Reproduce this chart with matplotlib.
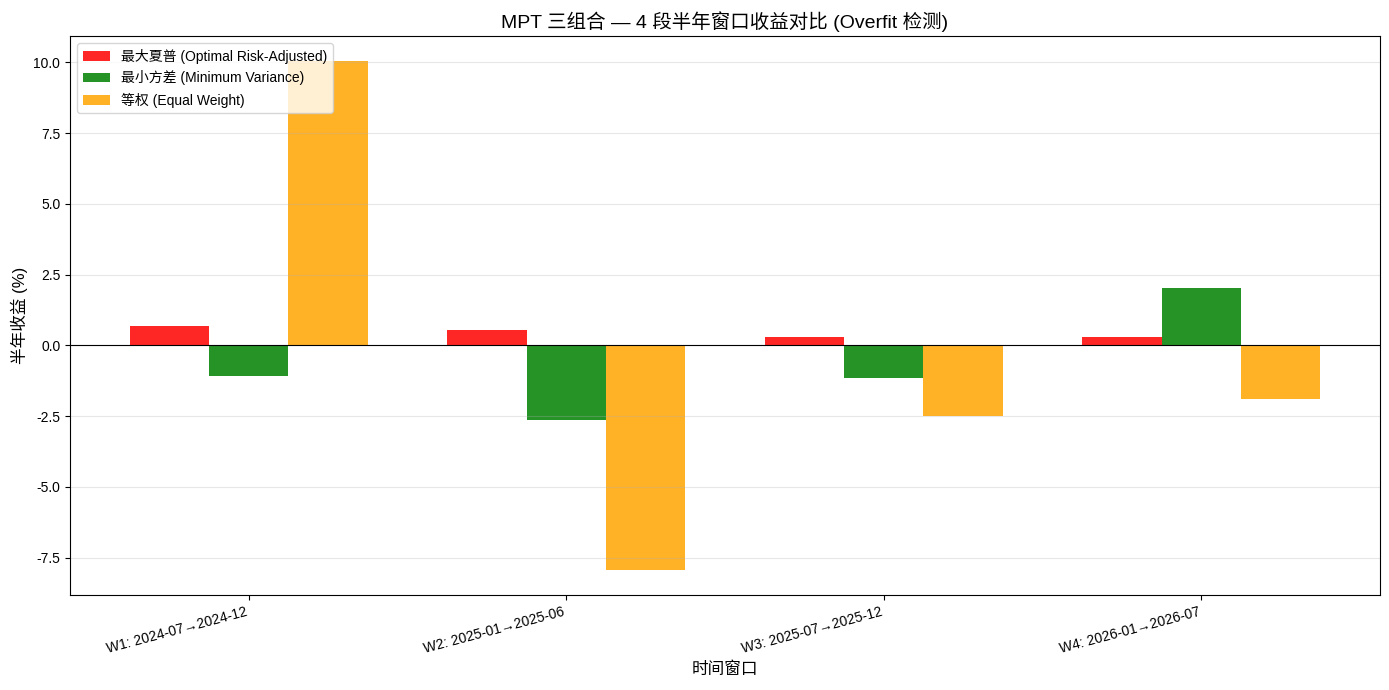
import numpy as np
import matplotlib
matplotlib.use("Agg")
import matplotlib.pyplot as plt

plt.rcParams['font.family'] = ['Liberation Sans', 'Noto Sans CJK SC', 'DejaVu Sans']
plt.rcParams['axes.unicode_minus'] = False

windows = ['W1: 2024-07→2024-12', 'W2: 2025-01→2025-06',
           'W3: 2025-07→2025-12', 'W4: 2026-01→2026-07']
max_sharpe = [0.67, 0.56, 0.29, 0.29]
min_var = [-1.09, -2.65, -1.15, 2.02]
equal_w = [10.03, -7.92, -2.51, -1.91]

labels = ['最大夏普 (Optimal Risk-Adjusted)', '最小方差 (Minimum Variance)', '等权 (Equal Weight)']
colors = ['red', 'green', 'orange']

fig, ax = plt.subplots(figsize=(13.89, 6.9), dpi=100)
x = np.arange(len(windows))
w = 0.25
for i, (vals, lab, c) in enumerate(zip([max_sharpe, min_var, equal_w], labels, colors)):
    ax.bar(x + (i - 1) * w, vals, w, label=lab, color=c, alpha=0.85)

ax.axhline(0, color='black', linewidth=0.8)
ax.set_xticks(x)
ax.set_xticklabels(windows, rotation=15, ha='right')
ax.set_xlabel('时间窗口', fontsize=12)
ax.set_ylabel('半年收益 (%)', fontsize=12)
ax.set_title('MPT 三组合 — 4 段半年窗口收益对比 (Overfit 检测)', fontsize=14)
ax.legend(loc='upper left')
ax.grid(axis='y', alpha=0.3)

fig.subplots_adjust(left=70 / 1389, right=1380 / 1389, top=1 - 36 / 690, bottom=1 - 595 / 690)
plt.savefig('out.png')
